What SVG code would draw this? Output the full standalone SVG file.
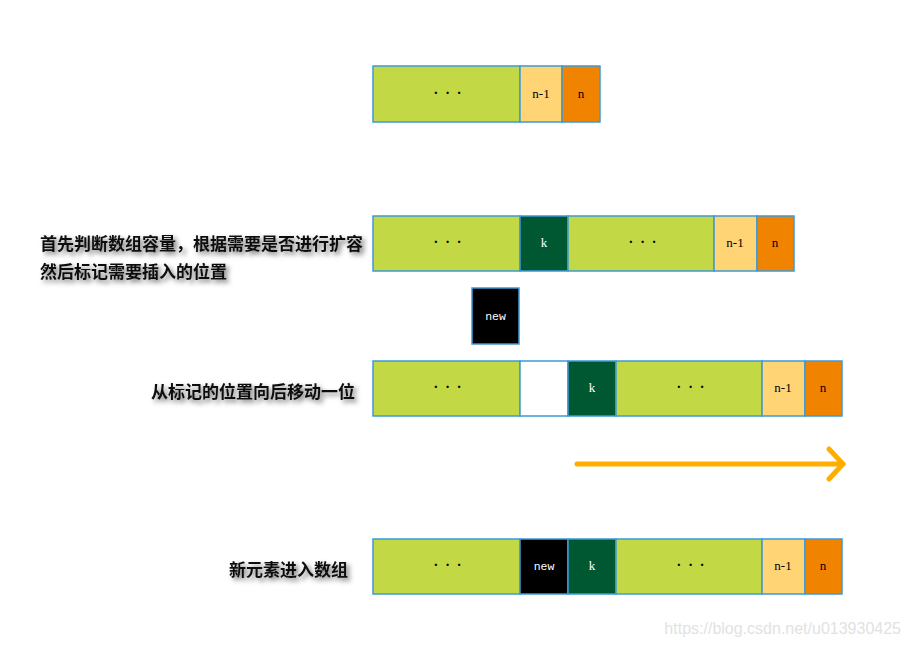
<svg xmlns="http://www.w3.org/2000/svg" width="911" height="647" viewBox="0 0 911 647">
<defs>
<filter id="sh" x="-10%" y="-40%" width="125%" height="200%">
<feDropShadow dx="3" dy="3" stdDeviation="2.5" flood-color="#000" flood-opacity="0.55"/>
</filter>
<marker id="chev" viewBox="0 0 20 36" refX="17" refY="18" markerWidth="20" markerHeight="36" markerUnits="userSpaceOnUse" orient="auto">
<polyline points="3,3 17,18 3,33" fill="none" stroke="#FFAE00" stroke-width="5" stroke-linecap="round" stroke-linejoin="round"/>
</marker>
</defs>
<style>
.c{stroke:#3C9BD8;stroke-width:1.5}
.g{fill:#C2D844}
.y{fill:#FFD475}
.o{fill:#F08300}
.k{fill:#005833}
.b{fill:#000}
.w{fill:#fff}
.t{font-family:"Liberation Serif",serif;font-size:13px;text-anchor:middle;fill:#000}
.tw{font-family:"Liberation Mono",monospace;font-size:11.5px;text-anchor:middle;fill:#fff}
.d{font-family:"Liberation Serif",serif;font-size:14px;font-weight:bold;text-anchor:middle;fill:#000;letter-spacing:7px}
.lab{font-family:"Noto Sans CJK SC",sans-serif;font-size:17px;font-weight:bold;fill:#111;filter:url(#sh)}
</style>
<rect width="911" height="647" fill="#fff"/>

<g id="row1">
<rect class="c g" x="373" y="66" width="147" height="56"/>
<rect class="c y" x="520" y="66" width="42" height="56"/>
<rect class="c o" x="562" y="66" width="38" height="56"/>
<text class="d" x="451" y="98">···</text>
<text class="t" x="541" y="98">n-1</text>
<text class="t" x="581" y="98">n</text>
</g>

<g id="row2">
<text class="lab" x="40" y="250">首先判断数组容量，根据需要是否进行扩容</text>
<text class="lab" x="40" y="278">然后标记需要插入的位置</text>
<rect class="c g" x="373" y="216" width="147" height="55"/>
<rect class="c k" x="520" y="216" width="48" height="55"/>
<rect class="c g" x="568" y="216" width="146" height="55"/>
<rect class="c y" x="714" y="216" width="43" height="55"/>
<rect class="c o" x="757" y="216" width="37" height="55"/>
<text class="d" x="451" y="247">···</text>
<text class="t" x="544" y="247" style="fill:#fff">k</text>
<text class="d" x="646" y="247">···</text>
<text class="t" x="735" y="247">n-1</text>
<text class="t" x="775" y="247">n</text>
</g>

<g id="newbox">
<rect class="c b" x="472" y="288" width="47" height="56"/>
<text class="tw" x="495.5" y="320">new</text>
</g>

<g id="row3">
<text class="lab" x="151" y="398">从标记的位置向后移动一位</text>
<rect class="c g" x="373" y="361" width="147" height="55"/>
<rect class="c w" x="520" y="361" width="48" height="55"/>
<rect class="c k" x="568" y="361" width="48" height="55"/>
<rect class="c g" x="616" y="361" width="146" height="55"/>
<rect class="c y" x="762" y="361" width="43" height="55"/>
<rect class="c o" x="805" y="361" width="37" height="55"/>
<text class="d" x="451" y="392">···</text>
<text class="t" x="592" y="392" style="fill:#fff">k</text>
<text class="d" x="694" y="392">···</text>
<text class="t" x="783" y="392">n-1</text>
<text class="t" x="823" y="392">n</text>
</g>

<g id="connectors">
<line x1="577" y1="464" x2="843" y2="464" stroke="#FFAE00" stroke-width="5" stroke-linecap="round" marker-end="url(#chev)"/>
</g>

<g id="row4">
<text class="lab" x="229" y="576">新元素进入数组</text>
<rect class="c g" x="373" y="539" width="147" height="55"/>
<rect class="c b" x="520" y="539" width="48" height="55"/>
<rect class="c k" x="568" y="539" width="48" height="55"/>
<rect class="c g" x="616" y="539" width="146" height="55"/>
<rect class="c y" x="762" y="539" width="43" height="55"/>
<rect class="c o" x="805" y="539" width="37" height="55"/>
<text class="d" x="451" y="570">···</text>
<text class="tw" x="544" y="570">new</text>
<text class="t" x="592" y="570" style="fill:#fff">k</text>
<text class="d" x="694" y="570">···</text>
<text class="t" x="783" y="570">n-1</text>
<text class="t" x="823" y="570">n</text>
</g>

<text x="901" y="634" font-family="Liberation Sans, sans-serif" font-size="16" fill="#e2e2e2" text-anchor="end">https://blog.csdn.net/u013930425</text>
</svg>
